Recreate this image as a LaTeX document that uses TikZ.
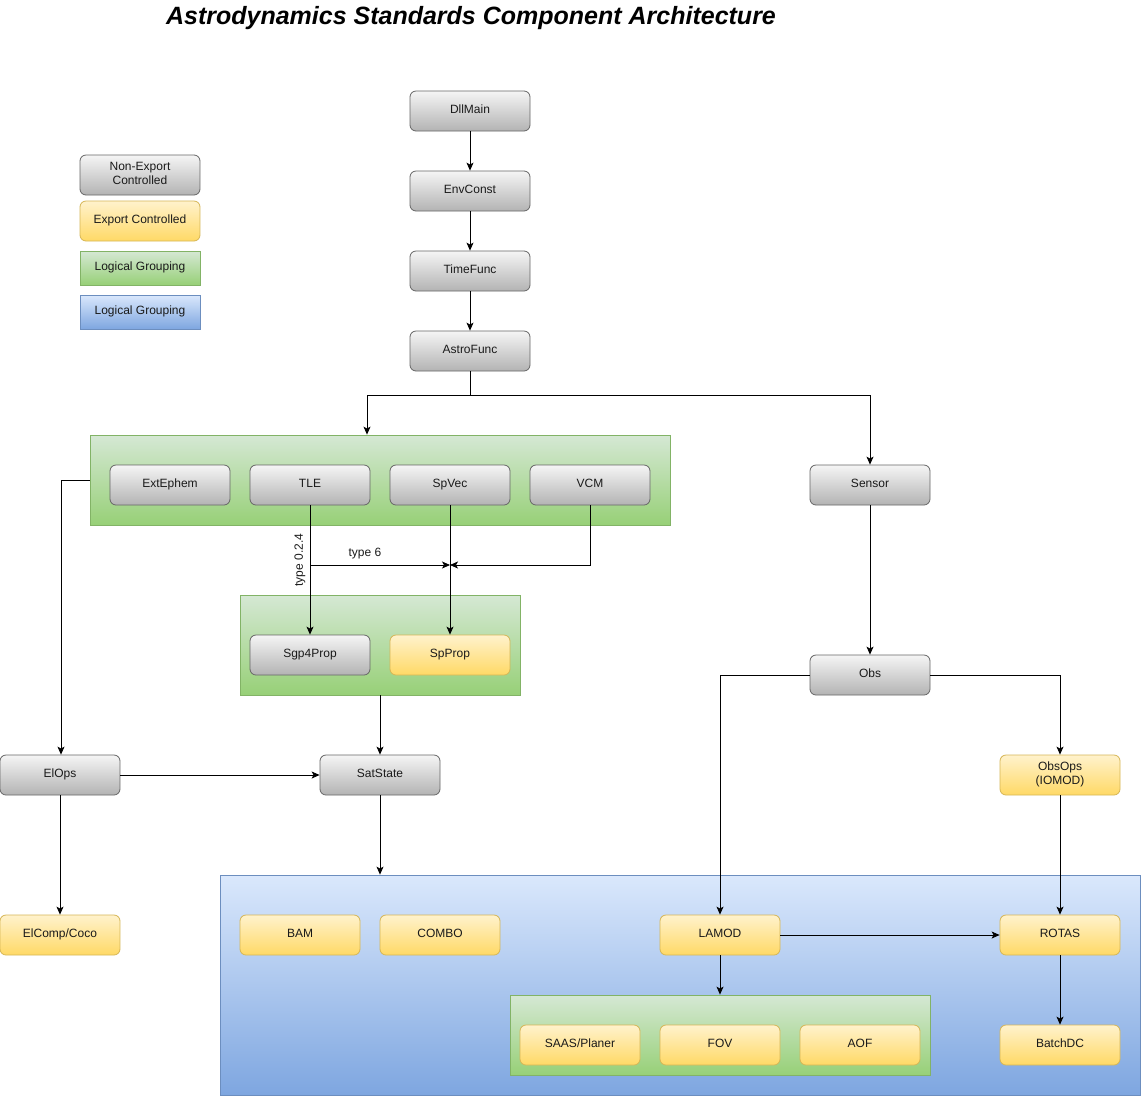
\documentclass[tikz,border=0pt]{standalone}
\usepackage{fontspec}
\setmainfont{Liberation Sans}
\usetikzlibrary{arrows.meta,calc}
\definecolor{txt}{HTML}{1A1A1A}
\newcommand{\mystrut}{\rule[-3.4pt]{0pt}{12.2pt}}
\tikzset{
  x=1pt,y=-1pt,
  basebox/.style={rounded corners=6pt, minimum width=120pt, minimum height=40pt, inner sep=0pt,
    align=center, text=txt, font=\fontsize{12}{14}\selectfont, line width=0.8pt,
    execute at begin node={\mystrut}, execute at end node={\mystrut}},
  graybox/.style={basebox, draw={rgb,255:red,102;green,102;blue,102}, top color={rgb,255:red,245;green,245;blue,245}, bottom color={rgb,255:red,179;green,179;blue,179}},
  yellowbox/.style={basebox, draw={rgb,255:red,214;green,182;blue,86}, top color={rgb,255:red,255;green,242;blue,204}, bottom color={rgb,255:red,255;green,217;blue,102}},
  greengrp/.style={draw={rgb,255:red,130;green,179;blue,102}, top color={rgb,255:red,213;green,232;blue,212}, bottom color={rgb,255:red,151;green,208;blue,119}, inner sep=0pt, line width=0.8pt, text=txt, font=\fontsize{12}{14}\selectfont, execute at begin node={\mystrut}},
  bluegrp/.style={draw={rgb,255:red,108;green,142;blue,191}, top color={rgb,255:red,218;green,232;blue,252}, bottom color={rgb,255:red,126;green,166;blue,224}, inner sep=0pt, line width=0.8pt, text=txt, font=\fontsize{12}{14}\selectfont, execute at begin node={\mystrut}},
  arr/.style={draw=black, line width=0.8pt, -{Stealth[length=8pt,width=7pt,inset=2pt]}},
  ln/.style={draw=black, line width=0.8pt},
  lbl/.style={text=txt, font=\fontsize{12}{14}\selectfont, inner sep=1pt},
}
\begin{document}
\begin{tikzpicture}
\useasboundingbox (0,0) rectangle (1141,1096);
\fill[white] (0,0) rectangle (1141,1096);

% title
\node[font=\bfseries\itshape\fontsize{25}{29}\selectfont, text=black] (title) at (471,18) {Astrodynamics Standards Component Architecture};

% legend
\node[graybox] (lg1) at (140,175) {Non-Export\\Controlled};
\node[yellowbox] (lg2) at (140,221) {Export Controlled};
\node[greengrp, minimum width=120pt, minimum height=34pt] (lg3) at (140,268) {Logical Grouping};
\node[bluegrp, minimum width=120pt, minimum height=34pt] (lg4) at (140,312) {Logical Grouping};

% groups
\node[greengrp, minimum width=580pt, minimum height=90pt] (g1) at (380,480) {};
\node[greengrp, minimum width=280pt, minimum height=100pt] (g2) at (380,645) {};
\node[bluegrp, minimum width=920pt, minimum height=220pt] (bg) at (680,985) {};
\node[greengrp, minimum width=420pt, minimum height=80pt] (g3) at (720,1035) {};

% top chain
\node[graybox] (dll) at (470,111) {DllMain};
\node[graybox] (env) at (470,191) {EnvConst};
\node[graybox] (time) at (470,271) {TimeFunc};
\node[graybox] (astro) at (470,351) {AstroFunc};

% group 1
\node[graybox] (ext) at (170,485) {ExtEphem};
\node[graybox] (tle) at (310,485) {TLE};
\node[graybox] (spvec) at (450,485) {SpVec};
\node[graybox] (vcm) at (590,485) {VCM};
\node[graybox] (sensor) at (870,485) {Sensor};

% group 2
\node[graybox] (sgp) at (310,655) {Sgp4Prop};
\node[yellowbox] (spprop) at (450,655) {SpProp};
\node[graybox] (obs) at (870,675) {Obs};

\node[graybox] (elops) at (60,775) {ElOps};
\node[graybox] (sat) at (380,775) {SatState};
\node[yellowbox] (obsops) at (1060,775) {ObsOps\\(IOMOD)};

\node[yellowbox] (elcomp) at (60,935) {ElComp/Coco};
\node[yellowbox] (bam) at (300,935) {BAM};
\node[yellowbox] (combo) at (440,935) {COMBO};
\node[yellowbox] (lamod) at (720,935) {LAMOD};
\node[yellowbox] (rotas) at (1060,935) {ROTAS};

\node[yellowbox] (saas) at (580,1045) {SAAS/Planer};
\node[yellowbox] (fov) at (720,1045) {FOV};
\node[yellowbox] (aof) at (860,1045) {AOF};
\node[yellowbox] (batch) at (1060,1045) {BatchDC};

% connectors
\draw[arr] (dll) -- (env);
\draw[arr] (env) -- (time);
\draw[arr] (time) -- (astro);
\coordinate (j1) at (470,395);
\draw[ln] (astro.south) -- (j1);
\draw[arr] (j1) -| ([xshift=-13pt]g1.north);
\draw[arr] (j1) -| (sensor.north);

\coordinate (elj) at (61,480);
\draw[arr] (g1.west) -- (elj) -- (elj |- elops.north);

\coordinate (tj) at (310,565);
\draw[arr] (tle.south) -- (sgp.north);
\draw[arr] (tj) -- (spvec.south |- tj);
\draw[arr] (spvec.south) -- (spprop.north);
\draw[arr] (vcm.south) |- (spvec.south |- tj);
\node[lbl, rotate=90] (t024) at (300,560) {type 0.2.4};
\node[lbl] (t6) at (365,554) {type 6};

\draw[arr] (g2.south) -- (sat.north);
\draw[arr] (elops.east) -- (sat.west);
\draw[arr] (elops.south) -- (elcomp.north);
\draw[arr] (sat.south) -- (sat.south |- bg.north);

\draw[arr] (sensor.south) -- (obs.north);
\draw[arr] (obs.west) -| (lamod.north);
\draw[arr] (obs.east) -| (obsops.north);
\draw[arr] (obsops.south) -- (rotas.north);
\draw[arr] (lamod.east) -- (rotas.west);
\draw[arr] (lamod.south) -- (g3.north);
\draw[arr] (rotas.south) -- (batch.north);
\end{tikzpicture}
\end{document}
